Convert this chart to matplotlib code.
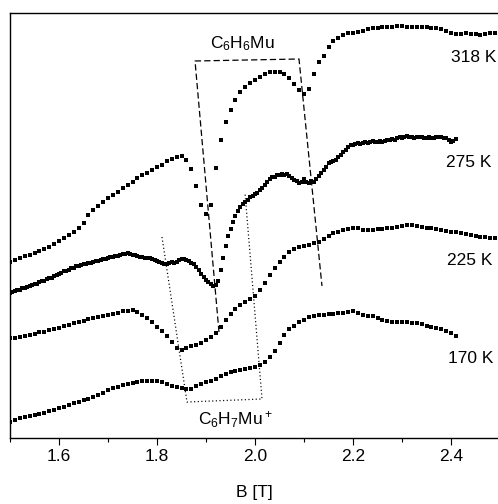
import numpy as np
import matplotlib.pyplot as plt
from matplotlib.ticker import MultipleLocator

plt.rcParams['font.family'] = 'Liberation Sans'
plt.rcParams['mathtext.fontset'] = 'custom'
plt.rcParams['mathtext.rm'] = 'Liberation Sans'
plt.rcParams['mathtext.it'] = 'Liberation Sans'

# field sweeps (T), signal in arbitrary units
b_start = 1.5
step = 0.01
step_275 = 0.005

sig_318 = [176, 178, 180, 182, 183, 185, 187, 189, 191, 194,
           197, 200, 203, 206, 210, 215, 223, 228, 232, 236,
           240, 243, 246, 250, 253, 256, 260, 263, 265, 268,
           271, 273, 277, 279, 281, 282, 278, 269, 252, 233,
           224, 233, 270, 298, 316, 328, 338, 346, 351, 355,
           358, 361, 364, 366, 366, 366, 364, 360, 354, 348,
           344, 349, 364, 376, 382, 391, 397, 400, 403, 405,
           405, 406, 407, 409, 410, 410, 411, 411, 411, 412,
           412, 411, 411, 411, 411, 411, 410, 410, 409, 407,
           405, 404, 404, 405, 404, 404, 403, 404, 405, 405]

sig_275 = [145, 146, 147, 148, 148, 150, 150, 151, 152, 153,
           154, 154, 156, 157, 157, 159, 160, 160, 162, 163,
           164, 165, 167, 167, 168, 170, 170, 172, 172, 173,
           174, 174, 175, 175, 176, 177, 177, 178, 179, 179,
           180, 181, 181, 182, 182, 183, 184, 184, 185, 184,
           183, 183, 182, 181, 181, 180, 180, 180, 179, 178,
           177, 176, 175, 174, 174, 175, 176, 175, 176, 178,
           179, 179, 178, 177, 175, 174, 171, 168, 164, 161,
           158, 156, 154, 152, 153, 157, 168, 180, 192, 202,
           209, 216, 222, 227, 231, 234, 236, 238, 241, 242,
           244, 245, 248, 250, 253, 256, 259, 261, 261, 263,
           263, 264, 263, 264, 262, 260, 258, 257, 255, 256,
           259, 256, 255, 257, 256, 259, 262, 265, 268, 271,
           275, 276, 277, 278, 281, 283, 286, 288, 291, 293,
           293, 294, 295, 294, 295, 296, 295, 296, 297, 296,
           296, 297, 296, 297, 298, 298, 299, 298, 300, 301,
           300, 301, 302, 301, 301, 300, 301, 301, 301, 300,
           300, 301, 300, 300, 301, 301, 301, 300, 300, 298,
           296, 297, 299]

sig_225 = [100, 100, 101, 102, 103, 104, 106, 106, 108, 109,
           110, 112, 113, 115, 116, 117, 119, 120, 121, 122,
           123, 124, 125, 127, 127, 128, 126, 123, 120, 116,
           111, 107, 102, 96, 90, 88, 90, 92, 93, 95,
           98, 101, 105, 111, 118, 124, 129, 133, 136, 139,
           142, 148, 155, 163, 170, 176, 181, 186, 189, 191,
           192, 193, 195, 196, 199, 202, 205, 206, 208, 209,
           210, 210, 208, 208, 208, 209, 209, 210, 210, 211,
           212, 213, 213, 212, 211, 210, 210, 209, 208, 207,
           206, 206, 205, 204, 203, 202, 201, 201, 200, 200]

sig_170 = [16, 18, 20, 21, 22, 23, 24, 25, 27, 28,
           30, 31, 33, 35, 36, 38, 39, 41, 43, 45,
           48, 50, 51, 53, 54, 55, 56, 57, 57, 57,
           57, 56, 54, 52, 51, 50, 49, 49, 52, 54,
           56, 57, 59, 62, 64, 66, 67, 68, 69, 70,
           71, 73, 76, 81, 87, 95, 103, 109, 112, 116,
           118, 121, 122, 123, 123, 124, 124, 125, 125, 126,
           127, 125, 123, 122, 122, 120, 118, 117, 116, 116,
           116, 116, 115, 115, 114, 112, 111, 110, 109, 107,
           105, 102]

# resonance guides
c6h6mu_b = [1.9265, 1.8776, 2.0898, 2.1367]
c6h6mu_s = [106, 377, 379, 152]
c6h7mu_b = [1.8102, 1.8612, 2.0143, 1.9796]
c6h7mu_s = [201, 36, 39, 245]

temps = ['318 K', '275 K', '225 K', '170 K']
temp_b = [2.400, 2.390, 2.392, 2.394]
temp_s = [376, 271, 173, 75]


def field(sig, st):
    return b_start + st * np.arange(len(sig))


fig = plt.figure(figsize=(4.98, 5.04), dpi=100)
ax = fig.add_axes([10 / 498, 66 / 504, 488 / 498, 425 / 504])

for sig, st in [(sig_318, step), (sig_275, step_275), (sig_225, step), (sig_170, step)]:
    ax.plot(field(sig, st), sig, 's', color='black', ms=2.2, mew=0)

ax.plot(c6h6mu_b, c6h6mu_s, color='black', lw=0.9, dashes=(5, 2.5))
ax.plot(c6h7mu_b, c6h7mu_s, color='black', lw=0.9, dashes=(0.9, 2.0))

ax.text(1.9082, 390, r'C$_6$H$_6$Mu', fontsize=12.5, ha='left', va='baseline')
ax.text(1.8837, 13, r'C$_6$H$_7$Mu$^+$', fontsize=12.5, ha='left', va='baseline')
for t, b, s in zip(temps, temp_b, temp_s):
    ax.text(b, s, t, fontsize=12.5, ha='left', va='baseline')

ax.set_xlim(1.5, 1.5 + 488 / 490)
ax.set_ylim(0, 425)
ax.set_yticks([])
ax.xaxis.set_major_locator(MultipleLocator(0.2))
ax.xaxis.set_minor_locator(MultipleLocator(0.1))
ax.tick_params(axis='x', which='major', direction='out', length=5, width=0.8,
               labelsize=12.5, pad=3)
ax.tick_params(axis='x', which='minor', direction='out', length=3, width=0.8)
ax.spines['right'].set_visible(False)
for sp in ['left', 'top', 'bottom']:
    ax.spines[sp].set_linewidth(1.0)
ax.set_xlabel('B [T]', fontsize=12.5, labelpad=15)

fig.savefig('out.png', dpi=100)
